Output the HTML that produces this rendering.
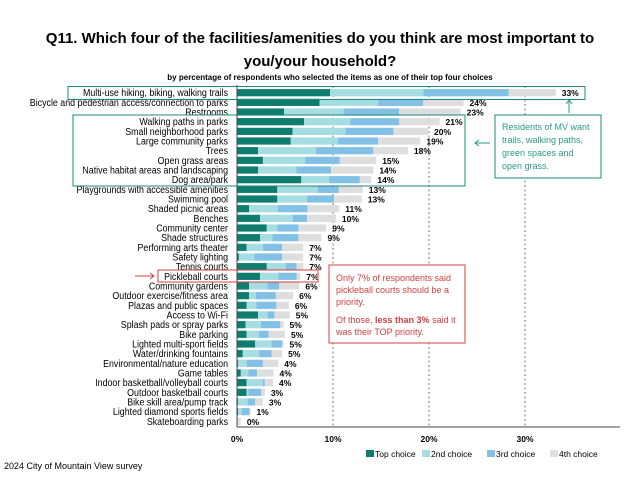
<!DOCTYPE html>
<html><head><meta charset="utf-8"><style>
body{margin:0;background:#fff;}
svg{display:block;font-family:"Liberation Sans",sans-serif;}
</style></head><body>
<svg id="c" width="640" height="480" viewBox="0 0 640 480">
<text x="320" y="43" text-anchor="middle" font-size="15" font-weight="bold">Q11.  Which four of the facilities/amenities do you think are most important to</text>
<text x="320" y="66" text-anchor="middle" font-size="15" font-weight="bold">you/your household?</text>
<text x="330" y="80" text-anchor="middle" font-size="8" font-weight="bold">by percentage of respondents who selected the items as one of their top four choices</text>
<g id="grid"></g><g id="bars"></g><g id="labels" transform="scale(0.86,1)"></g><g id="vals"></g>
<line x1="237" y1="85" x2="237" y2="427" stroke="#444" stroke-width="1"/>
<line x1="237" y1="427" x2="620" y2="427" stroke="#444" stroke-width="1"/>
<g id="ticks"></g>
<rect x="68" y="86.5" width="517" height="13" fill="none" stroke="#1a8a7d" stroke-width="1"/>
<rect x="73" y="115" width="392" height="71" fill="none" stroke="#1a8a7d" stroke-width="1"/>
<rect x="495" y="115" width="106" height="63" fill="#fff" stroke="#1a8a7d" stroke-width="1"/>
<g font-size="9" fill="#2a9a8a">
<text x="502" y="130">Residents of MV want</text><text x="502" y="143">trails, walking paths,</text><text x="502" y="156">green spaces and</text><text x="502" y="169">open grass.</text></g>
<path d="M569 113 V101 M566 104 L569 100 L572 104" stroke="#2a9a8a" fill="none"/>
<path d="M490 143 H475 M479 140 L475 143 L479 146" stroke="#2a9a8a" fill="none"/>
<rect x="158" y="270" width="160" height="12" fill="none" stroke="#d04040" stroke-width="1"/>
<path d="M135 276 H154 M150 273 L154 276 L150 279" stroke="#d04040" fill="none"/>
<rect x="329" y="265" width="136" height="78" fill="#fff" stroke="#d04040" stroke-width="1"/>
<g font-size="9" fill="#d04040">
<text x="336" y="281">Only 7% of respondents said</text><text x="336" y="293">pickleball courts should be a</text><text x="336" y="305">priority.</text>
<text x="336" y="323">Of those, <tspan font-weight="bold">less than 3%</tspan> said it</text><text x="336" y="335">was their TOP priority.</text></g>
<g id="legend" font-size="8.5"></g>
<text x="4" y="469" font-size="9">2024 City of Mountain View survey</text>
</svg>
<script>
const categories=["Multi-use hiking, biking, walking trails","Bicycle and pedestrian access/connection to parks","Restrooms","Walking paths in parks","Small neighborhood parks","Large community parks","Trees","Open grass areas","Native habitat areas and landscaping","Dog area/park","Playgrounds with accessible amenities","Swimming pool","Shaded picnic areas","Benches","Community center","Shade structures","Performing arts theater","Safety lighting","Tennis courts","Pickleball courts","Community gardens","Outdoor exercise/fitness area","Plazas and public spaces","Access to Wi-Fi","Splash pads or spray parks","Bike parking","Lighted multi-sport fields","Water/drinking fountains","Environmental/nature education","Game tables","Indoor basketball/volleyball courts","Outdoor basketball courts","Bike skill area/pump track","Lighted diamond sports fields","Skateboarding parks"];
const topChoice=[9.7,8.6,4.9,7.0,5.8,5.6,2.2,2.7,2.2,6.7,4.2,4.2,1.25,2.4,3.1,2.4,1.0,0.2,3.1,2.4,1.25,1.25,1.0,2.2,0.9,1.0,1.9,0.6,0.1,0.4,1.0,1.0,0.1,0.1,0];
const secondChoice=[9.7,6.1,6.2,4.8,5.5,4.9,6.0,4.4,4.0,2.9,4.2,3.1,3.0,3.4,1.1,1.3,1.7,1.6,2.0,1.9,1.9,0.7,1.0,1.0,1.6,1.3,1.7,1.7,0.9,0.8,1.7,0.2,1.0,0.4,0];
const thirdChoice=[8.9,4.7,5.8,5.1,5.0,4.2,6.0,3.6,3.6,3.2,2.2,2.8,3.1,1.5,2.2,2.7,2.0,2.9,1.1,1.9,1.25,2.1,2.1,0.7,2.0,1.0,1.1,1.3,1.7,0.9,0.2,1.3,0.8,0.8,0];
const fourthChoice=[4.9,4.2,6.4,4.2,3.6,4.4,3.6,3.8,4.4,1.2,2.5,2.9,3.3,3.0,2.9,2.4,2.2,2.2,0.7,0.4,2.1,1.8,1.3,1.6,0.35,1.7,0.15,1.1,1.6,1.7,0.85,0.4,0.8,0.1,0.4];
const totalLabels=["33%","24%","23%","21%","20%","19%","18%","15%","14%","14%","13%","13%","11%","10%","9%","9%","7%","7%","7%","7%","6%","6%","6%","5%","5%","5%","5%","5%","4%","4%","4%","3%","3%","1%","0%"];
const tickValues=[0,10,20,30];
const tickLabels=["0%","10%","20%","30%"];
const seriesNames=["Top choice","2nd choice","3rd choice","4th choice"];
const colors=["#0f7c70","#a6dde3","#82c0e6","#dedede"];
const NS="http://www.w3.org/2000/svg";
const xS=v=>237+v*9.6;
const yS=i=>92.7+i*(421.3-92.7)/(categories.length-1);
function mk(t,a,p){const e=document.createElementNS(NS,t);for(const k in a)e.setAttribute(k,a[k]);p.appendChild(e);return e;}
const G=id=>document.getElementById(id);
tickValues.forEach((v,i)=>{
  if(v>0){const l=mk('line',{x1:xS(v),x2:xS(v),y1:86,y2:427,stroke:'#555','stroke-dasharray':'2,2.5','stroke-width':0.8},G('grid'));
  
  }
  const t=mk('text',{x:xS(v),y:442,'text-anchor':'middle','font-size':8.5,'font-weight':'bold'},G('ticks'));t.textContent=tickLabels[i];
  
  
});
const series=[topChoice,secondChoice,thirdChoice,fourthChoice];
categories.forEach((c,i)=>{
  const y=yS(i);let acc=0;
  series.forEach((s,k)=>{
    const r=mk('rect',{x:xS(acc),y:y-3.6,width:Math.max(0,s[i]*9.6),height:7.2,fill:colors[k]},G('bars'));
    
    
    acc+=s[i];
  });
  const t=mk('text',{x:228/0.86,y:y+3.5,'text-anchor':'end','font-size':10.3},G('labels'));t.textContent=c;
  
  
  const v=mk('text',{x:xS(acc)+6,y:y+3.5,'font-size':8.5,'font-weight':'bold'},G('vals'));v.textContent=totalLabels[i];
  
  
});
const lx=[366,422,487,550];
seriesNames.forEach((n,k)=>{
  const r=mk('rect',{x:lx[k],y:450,width:8,height:7,fill:colors[k]},G('legend'));
  
  
  const t=mk('text',{x:lx[k]+9,y:457},G('legend'));t.textContent=n;
  
  
});
</script>
</body></html>
